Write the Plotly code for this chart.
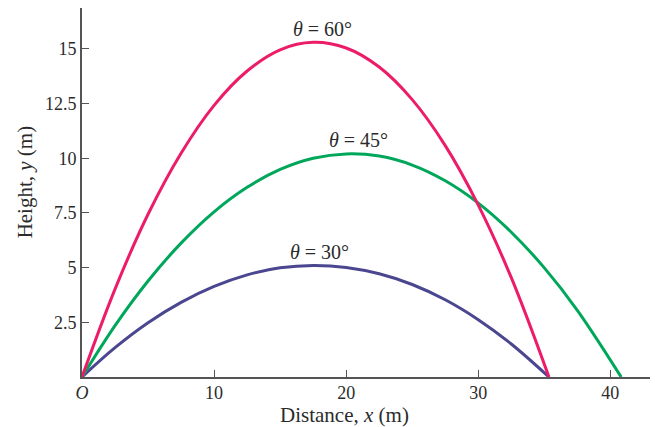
import plotly.graph_objects as go

# Data (distance x in m, height y in m)
x30 = [0, 2.5, 5, 7.5, 10, 12.5, 15, 17.5, 20, 22.5, 25, 27.5, 30, 32.5, 35.35]
y30 = [0, 1.34, 2.48, 3.41, 4.14, 4.67, 4.99, 5.10, 5.01, 4.72, 4.23, 3.53, 2.62, 1.51, 0]

x45 = [0, 2.5, 5, 7.5, 10, 12.5, 15, 17.5, 20, 22.5, 25, 27.5, 30, 32.5, 35, 37.5, 40.82]
y45 = [0, 2.35, 4.39, 6.12, 7.55, 8.67, 9.49, 10.00, 10.20, 10.10, 9.69, 8.97, 7.95, 6.62, 4.99, 3.05, 0]

x60 = [0, 2.5, 5, 7.5, 10, 12.5, 15, 17.5, 20, 22.5, 25, 27.5, 30, 32.5, 35.35]
y60 = [0, 4.02, 7.44, 10.23, 12.42, 13.99, 14.96, 15.30, 15.04, 14.17, 12.68, 10.58, 7.86, 4.54, 0]

labels = ["<i>θ</i> = 30°", "<i>θ</i> = 45°", "<i>θ</i> = 60°"]
label_x = [18.0, 20.9, 18.2]
label_y = [5.71, 10.84, 15.9]

x_ticks = [0, 10, 20, 30, 40]
x_ticktext = ["<i>O</i>", "10", "20", "30", "40"]
y_ticks = [2.5, 5, 7.5, 10, 12.5, 15]
y_ticktext = ["2.5", "5", "7.5", "10", "12.5", "15"]

colors = ["#4B4690", "#00A75A", "#EC1C68"]
FONT = "Liberation Serif"
TXT = "#2b2b2b"

fig = go.Figure()
for xs, ys, c in [(x30, y30, colors[0]), (x45, y45, colors[1]), (x60, y60, colors[2])]:
    fig.add_trace(go.Scatter(x=xs, y=ys, mode="lines",
                             line=dict(color=c, width=3, shape="spline", smoothing=1.0),
                             showlegend=False, hoverinfo="skip"))

for t, lx, ly in zip(labels, label_x, label_y):
    fig.add_annotation(x=lx, y=ly, text=t, showarrow=False,
                       font=dict(family=FONT, size=20, color=TXT),
                       xanchor="center", yanchor="middle")

fig.add_annotation(xref="paper", yref="paper", x=0.462, y=-0.104,
                   text="Distance, <i>x</i> (m)", showarrow=False,
                   font=dict(family=FONT, size=21, color=TXT),
                   xanchor="center", yanchor="middle")
fig.add_annotation(xref="paper", yref="paper", x=-0.100, y=0.528,
                   text="Height, <i>y</i> (m)", showarrow=False, textangle=-90,
                   font=dict(family=FONT, size=21, color=TXT),
                   xanchor="center", yanchor="middle")

fig.update_layout(
    width=655, height=427,
    margin=dict(l=82, r=5, t=8, b=50),
    paper_bgcolor="white", plot_bgcolor="white",
    font=dict(family=FONT, size=18, color=TXT),
    xaxis=dict(range=[0, 43], tickvals=x_ticks, ticktext=x_ticktext,
               ticks="inside", ticklen=7, tickwidth=1.2, tickcolor="#555",
               showline=True, linecolor="#555", linewidth=2,
               showgrid=False, zeroline=False, fixedrange=True,
               automargin=False, ticklabelstandoff=-2),
    yaxis=dict(range=[0, 16.87], tickvals=y_ticks, ticktext=y_ticktext,
               ticks="inside", ticklen=7, tickwidth=1.2, tickcolor="#555",
               showline=True, linecolor="#555", linewidth=2,
               showgrid=False, zeroline=False, fixedrange=True,
               automargin=False),
)

fig.write_html("out.html", config={"displayModeBar": False},
               post_script="document.body.style.margin='0';document.body.style.padding='0';")
